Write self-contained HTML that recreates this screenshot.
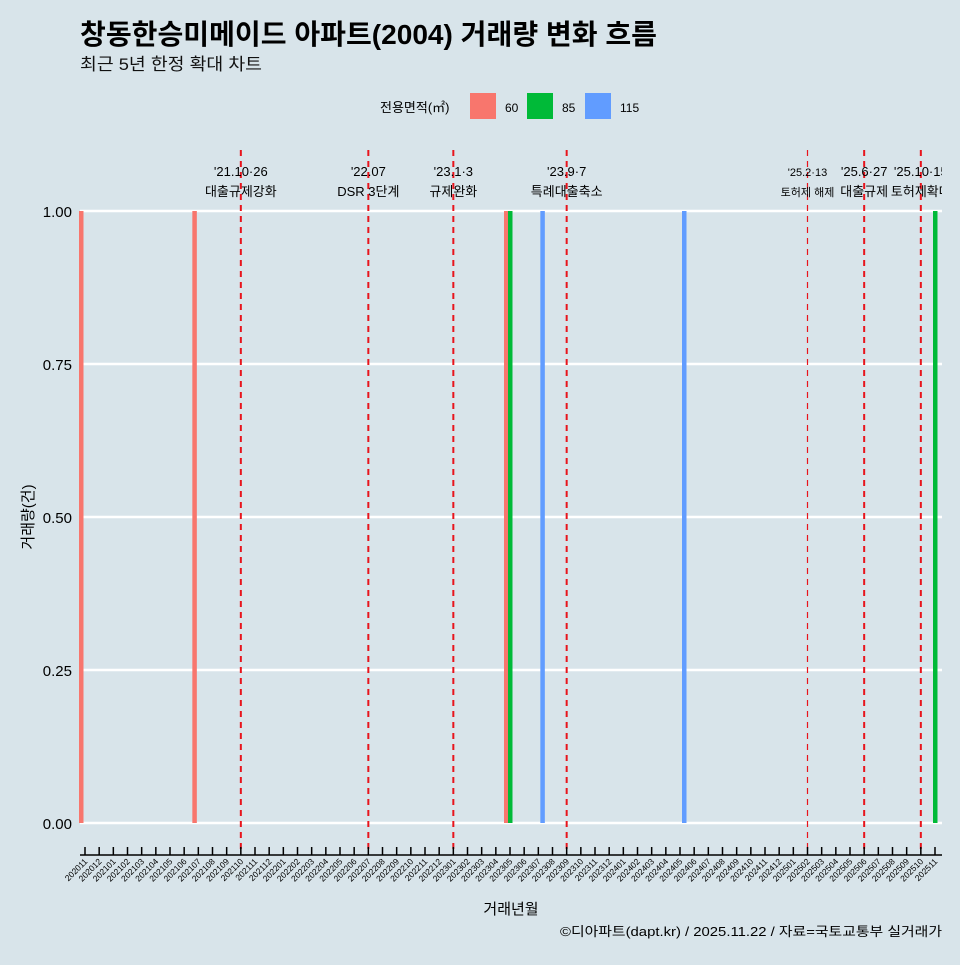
<!DOCTYPE html>
<html><head><meta charset="utf-8"><style>
body{margin:0;background:#d8e4ea;font-family:"Liberation Sans","Noto Sans CJK KR",sans-serif;}
</style></head><body>
<svg width="960" height="960" xmlns="http://www.w3.org/2000/svg" font-family="Liberation Sans, Noto Sans CJK KR, sans-serif">
<defs><clipPath id="pc"><rect x="0" y="0" width="942" height="960"/></clipPath></defs>
<rect width="960" height="960" fill="#d8e4ea"/>
<text x="80" y="44" font-size="28" font-weight="bold" fill="#000" textLength="577" lengthAdjust="spacingAndGlyphs">창동한승미메이드 아파트(2004) 거래량 변화 흐름</text>
<text x="80" y="70" font-size="17" fill="#111" textLength="182" lengthAdjust="spacingAndGlyphs">최근 5년 한정 확대 차트</text>
<g>
<text x="380" y="112" font-size="13">전용면적(㎡)</text>
<rect x="470" y="93" width="26" height="26" fill="#f8766d"/>
<text x="505" y="112" font-size="12">60</text>
<rect x="527" y="93" width="26" height="26" fill="#00ba38"/>
<text x="562" y="112" font-size="12">85</text>
<rect x="585" y="93" width="26" height="26" fill="#619cff"/>
<text x="620" y="112" font-size="12">115</text>
</g>
<g id="grid"></g>
<g id="marks"></g>
<g id="events" clip-path="url(#pc)"></g>
<g id="axes"></g>
<text x="511" y="914" font-size="15" text-anchor="middle">거래년월</text>
<text transform="translate(33,517) rotate(-90)" font-size="15" text-anchor="middle">거래량(건)</text>
<text x="942" y="936" font-size="13" text-anchor="end" textLength="382" lengthAdjust="spacingAndGlyphs">©디아파트(dapt.kr) / 2025.11.22 / 자료=국토교통부 실거래가</text>
</svg>
<script>
const months=[];for(let y=2020,m=11;!(y===2025&&m===12);){months.push(''+y+(m<10?'0':'')+m);m++;if(m>12){m=1;y++;}}
const yTicks=[0,0.25,0.5,0.75,1];
const yTickLabels=["0.00","0.25","0.50","0.75","1.00"];
const barMonths=["202011","202107","202305","202305","202307","202405","202511"];
const barSizes=["60","60","60","85","115","115","85"];
const barValues=[1,1,1,1,1,1,1];
const eventMonths=["202110","202207","202301","202309","202502","202506","202510"];
const eventDates=["'21.10·26","'22.07","'23.1·3","'23.9·7","'25.2·13","'25.6·27","'25.10·15"];
const eventNames=["대출규제강화","DSR 3단계","규제완화","특례대출축소","토허제 해제","대출규제","토허제확대"];
const NS="http://www.w3.org/2000/svg";
const x=i=>85+i*(935-85)/60;
const xm=m=>x(months.indexOf(m));
const y=v=>823-v*(823-211);
const colors={"60":"#f8766d","85":"#00ba38","115":"#619cff"};
const offs={"60":-4,"85":0,"115":4};
function mk(t,a,p){const e=document.createElementNS(NS,t);for(const k in a)e.setAttribute(k,a[k]);p.appendChild(e);return e;}
const grid=document.getElementById('grid'),marks=document.getElementById('marks'),ev=document.getElementById('events'),ax=document.getElementById('axes');
yTicks.forEach((t,i)=>{
 const l=mk('line',{x1:80,x2:942,y1:y(t),y2:y(t),stroke:'#fff','stroke-width':2.5},grid);
 
 
 const tx=mk('text',{x:72,y:y(t)+6,'font-size':15,'text-anchor':'end'},ax);tx.textContent=yTickLabels[i];
 
 
});
barMonths.forEach((m,i)=>{
 const r=mk('rect',{x:xm(m)+offs[barSizes[i]]-2,y:y(barValues[i]),width:4.5,height:y(0)-y(barValues[i]),fill:colors[barSizes[i]]},marks);
 
 
});
eventMonths.forEach((m,i)=>{
 const X=xm(m);const thin=m==="202502";
 const l=mk('line',{x1:X,x2:X,y1:150,y2:852,stroke:'#e8141c','stroke-width':thin?1.2:2,'stroke-dasharray':'6,5'},ev);
 
 
 const fs=thin?11:13;
 const t1=mk('text',{x:X,y:176,'font-size':fs,'text-anchor':'middle'},ev);t1.textContent=eventDates[i];
 
 
 const t2=mk('text',{x:X,y:196,'font-size':fs,'text-anchor':'middle'},ev);t2.textContent=eventNames[i];
 
 
});
const al=mk('line',{x1:80,x2:942,y1:855,y2:855,stroke:'#000','stroke-width':1.5},ax);


months.forEach((m,i)=>{
 mk('line',{x1:x(i),x2:x(i),y1:847,y2:855,stroke:'#000','stroke-width':1.5},ax);
 const t=mk('text',{transform:`translate(${x(i)+3},862) rotate(-45)`,'font-size':8.5,'text-anchor':'end'},ax);t.textContent=m;
 
 
});
</script>
</body></html>
